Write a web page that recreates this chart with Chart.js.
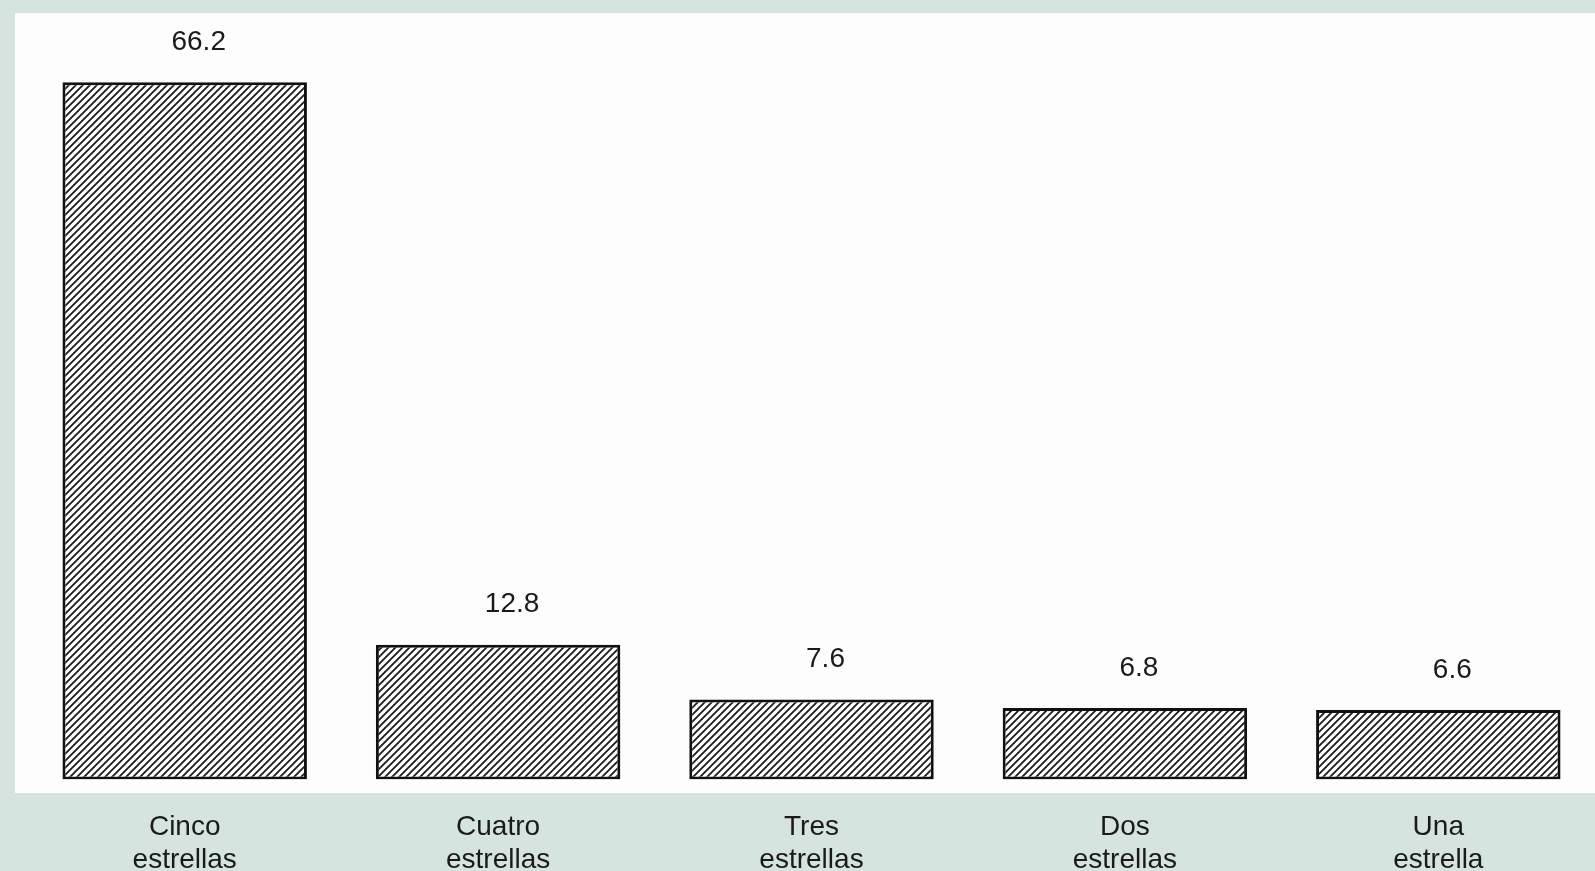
<!DOCTYPE html>
<html>
<head>
<meta charset="utf-8">
<script src="https://cdn.jsdelivr.net/npm/chart.js@4.4.0/dist/chart.umd.min.js"></script>
<style>
    html, body { margin: 0; padding: 0; width: 1595px; height: 871px; overflow: hidden; background: #d5e4df; }
    #panel { position: absolute; left: 15px; top: 13px; width: 1580px; height: 780px; background: #fdfdfd; }
    #wrap { position: absolute; left: 0; top: 0; width: 1595px; height: 908px; }
</style>
</head>
<body>
<div id="panel"></div>
<div id="wrap"><canvas id="chart"></canvas></div>
<script>
const categories = [['Cinco', 'estrellas'], ['Cuatro', 'estrellas'], ['Tres', 'estrellas'], ['Dos', 'estrellas'], ['Una', 'estrella']];
const values = [66.2, 12.8, 7.6, 6.8, 6.6];
const valueLabels = ['66.2', '12.8', '7.6', '6.8', '6.6'];

document.addEventListener('DOMContentLoaded', () => {
    // diagonal hatch fill
    const makeHatch = () => {
        const size = 7;
        const c = document.createElement('canvas');
        c.width = size;
        c.height = size;
        const ctx = c.getContext('2d');
        ctx.fillStyle = '#ffffff';
        ctx.fillRect(0, 0, size, size);
        ctx.strokeStyle = '#1a1a1a';
        ctx.lineWidth = 1.8;
        ctx.beginPath();
        ctx.moveTo(-1, size + 1);
        ctx.lineTo(size + 1, -1);
        ctx.moveTo(-1, 1);
        ctx.lineTo(1, -1);
        ctx.moveTo(size - 1, size + 1);
        ctx.lineTo(size + 1, size - 1);
        ctx.stroke();
        return c;
    };

    // values written above each bar
    const valueLabelPlugin = {
        id: 'valueLabels',
        afterDatasetsDraw(chart) {
            const ctx = chart.ctx;
            const meta = chart.getDatasetMeta(0);
            ctx.save();
            ctx.font = '28px "Liberation Sans", Arial, sans-serif';
            ctx.fillStyle = '#1a1a1a';
            ctx.textAlign = 'center';
            ctx.textBaseline = 'middle';
            meta.data.forEach((bar, i) => {
                ctx.fillText(valueLabels[i], bar.x + 14, bar.y - 40);
            });
            ctx.restore();
        }
    };

    const canvas = document.getElementById('chart');
    const pattern = canvas.getContext('2d').createPattern(makeHatch(), 'repeat');

    new Chart(canvas, {
        type: 'bar',
        data: {
            labels: categories,
            datasets: [{
                data: values,
                backgroundColor: pattern,
                borderColor: '#111111',
                borderWidth: 3,
                borderSkipped: false,
                categoryPercentage: 1,
                barPercentage: 0.78
            }]
        },
        options: {
            responsive: true,
            maintainAspectRatio: false,
            animation: false,
            layout: {
                padding: { left: 28, right: 0, top: 0, bottom: 0 }
            },
            plugins: {
                legend: { display: false },
                tooltip: { enabled: false }
            },
            scales: {
                x: {
                    grid: { display: false, drawTicks: false },
                    border: { display: false },
                    ticks: {
                        color: '#1a1a1a',
                        padding: 32,
                        font: { family: '"Liberation Sans", Arial, sans-serif', size: 28, lineHeight: 1.15 }
                    }
                },
                y: {
                    display: false,
                    min: 0,
                    max: 74
                }
            }
        },
        plugins: [valueLabelPlugin]
    });
});
</script>
</body>
</html>
